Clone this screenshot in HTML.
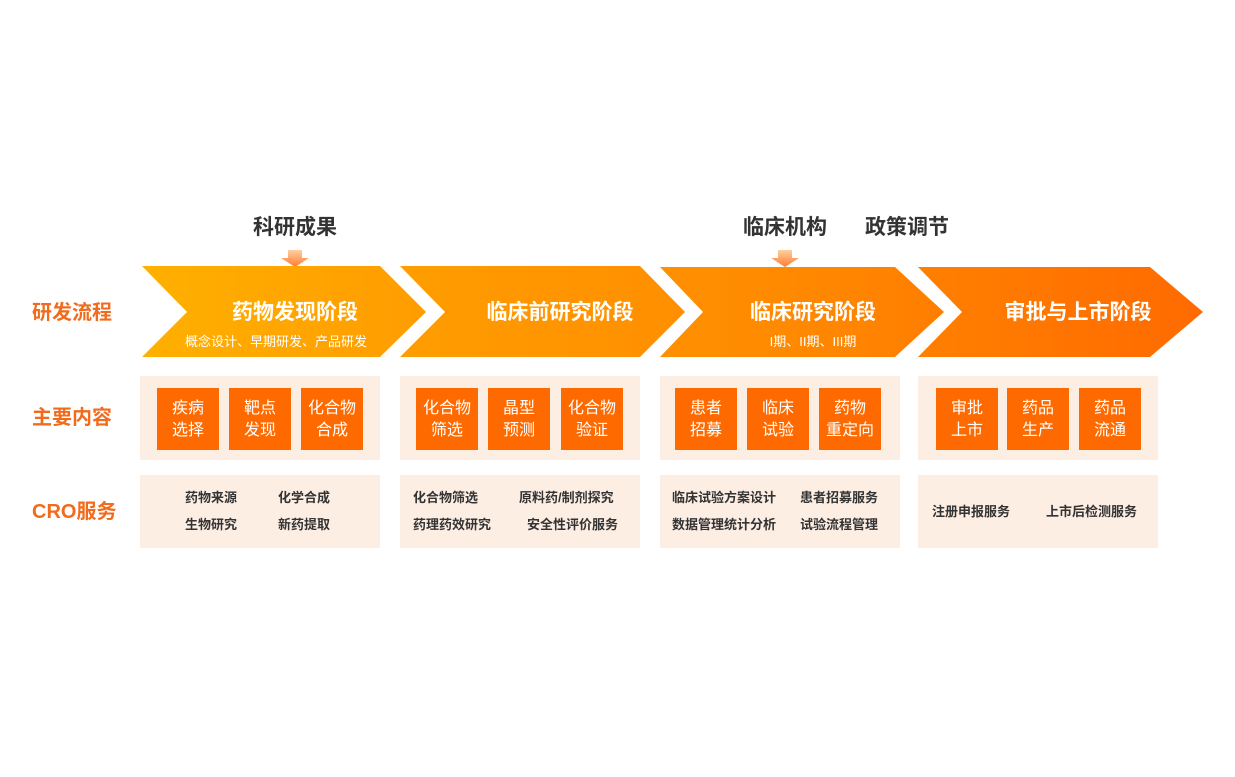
<!DOCTYPE html>
<html><head><meta charset="utf-8"><style>
body{margin:0;background:#fff;width:1235px;height:772px;overflow:hidden}
svg text{font-family:"Liberation Sans","Noto Sans CJK SC",sans-serif}
</style></head><body>
<svg width="1235" height="772" viewBox="0 0 1235 772" xmlns="http://www.w3.org/2000/svg">
<defs>
<linearGradient id="g" gradientUnits="userSpaceOnUse" x1="140" y1="0" x2="1205" y2="0">
<stop offset="0" stop-color="#ffb000"/><stop offset="0.3" stop-color="#ff9a00"/><stop offset="0.6" stop-color="#ff8a00"/><stop offset="1" stop-color="#ff6a00"/></linearGradient>
<linearGradient id="ar" x1="0" y1="0" x2="0" y2="1"><stop offset="0" stop-color="#ffd0a0"/><stop offset="1" stop-color="#ff7a30"/></linearGradient>
</defs>
<g font-size="21" font-weight="bold" fill="#333">
<text x="295" y="234" text-anchor="middle">科研成果</text>
<text x="785" y="234" text-anchor="middle">临床机构</text>
<text x="907" y="234" text-anchor="middle">政策调节</text>
</g>
<path d="M288 250h14v8h7l-14 9-14-9h7z" fill="url(#ar)"/>
<path d="M778 250h14v8h7l-14 9-14-9h7z" fill="url(#ar)"/>
<g fill="url(#g)">
<polygon points="142,266 380,266 426,312 380,357 142,357 187,312"/>
<polygon points="400,266 640,266 685,312 640,357 400,357 445,312"/>
<polygon points="660,267 895,267 944,312 895,357 660,357 703,312"/>
<polygon points="918,267 1150,267 1203,312 1150,357 918,357 962,312"/>
</g>
<g fill="#fff" font-size="21" font-weight="bold" text-anchor="middle">
<text x="295" y="319">药物发现阶段</text>
<text x="560" y="319">临床前研究阶段</text>
<text x="813" y="319">临床研究阶段</text>
<text x="1078" y="319">审批与上市阶段</text>
</g>
<g fill="#fff" font-size="13" text-anchor="middle">
<text x="276" y="346">概念设计、早期研发、产品研发</text>
<text x="813" y="346">I期、II期、III期</text>
</g>
<g fill="#f26b1d" font-size="20" font-weight="bold">
<text x="32" y="319">研发流程</text>
<text x="32" y="424">主要内容</text>
<text x="32" y="518">CRO服务</text>
</g>
<g fill="#fdeee4">
<rect x="140" y="376" width="240" height="84"/><rect x="400" y="376" width="240" height="84"/>
<rect x="660" y="376" width="240" height="84"/><rect x="918" y="376" width="240" height="84"/>
<rect x="140" y="475" width="240" height="73"/><rect x="400" y="475" width="240" height="73"/>
<rect x="660" y="475" width="240" height="73"/><rect x="918" y="475" width="240" height="73"/>
</g>
<g fill="#ff6a00">
<rect x="157" y="388" width="62" height="62"/><rect x="229" y="388" width="62" height="62"/><rect x="301" y="388" width="62" height="62"/>
<rect x="416" y="388" width="62" height="62"/><rect x="488" y="388" width="62" height="62"/><rect x="561" y="388" width="62" height="62"/>
<rect x="675" y="388" width="62" height="62"/><rect x="747" y="388" width="62" height="62"/><rect x="819" y="388" width="62" height="62"/>
<rect x="936" y="388" width="62" height="62"/><rect x="1007" y="388" width="62" height="62"/><rect x="1079" y="388" width="62" height="62"/>
</g>
<g fill="#fff" font-size="16" text-anchor="middle">
<text x="188" y="413">疾病</text><text x="188" y="435">选择</text>
<text x="260" y="413">靶点</text><text x="260" y="435">发现</text>
<text x="332" y="413">化合物</text><text x="332" y="435">合成</text>
<text x="447" y="413">化合物</text><text x="447" y="435">筛选</text>
<text x="519" y="413">晶型</text><text x="519" y="435">预测</text>
<text x="592" y="413">化合物</text><text x="592" y="435">验证</text>
<text x="706" y="413">患者</text><text x="706" y="435">招募</text>
<text x="778" y="413">临床</text><text x="778" y="435">试验</text>
<text x="850" y="413">药物</text><text x="850" y="435">重定向</text>
<text x="967" y="413">审批</text><text x="967" y="435">上市</text>
<text x="1038" y="413">药品</text><text x="1038" y="435">生产</text>
<text x="1110" y="413">药品</text><text x="1110" y="435">流通</text>
</g>
<g fill="#333" font-size="13" font-weight="bold">
<text x="185" y="502">药物来源</text><text x="278" y="502">化学合成</text>
<text x="185" y="529">生物研究</text><text x="278" y="529">新药提取</text>
<text x="413" y="502">化合物筛选</text><text x="519" y="502">原料药/制剂探究</text>
<text x="413" y="529">药理药效研究</text><text x="527" y="529">安全性评价服务</text>
<text x="672" y="502">临床试验方案设计</text><text x="800" y="502">患者招募服务</text>
<text x="672" y="529">数据管理统计分析</text><text x="800" y="529">试验流程管理</text>
<text x="932" y="516">注册申报服务</text><text x="1046" y="516">上市后检测服务</text>
</g>
</svg>
</body></html>
